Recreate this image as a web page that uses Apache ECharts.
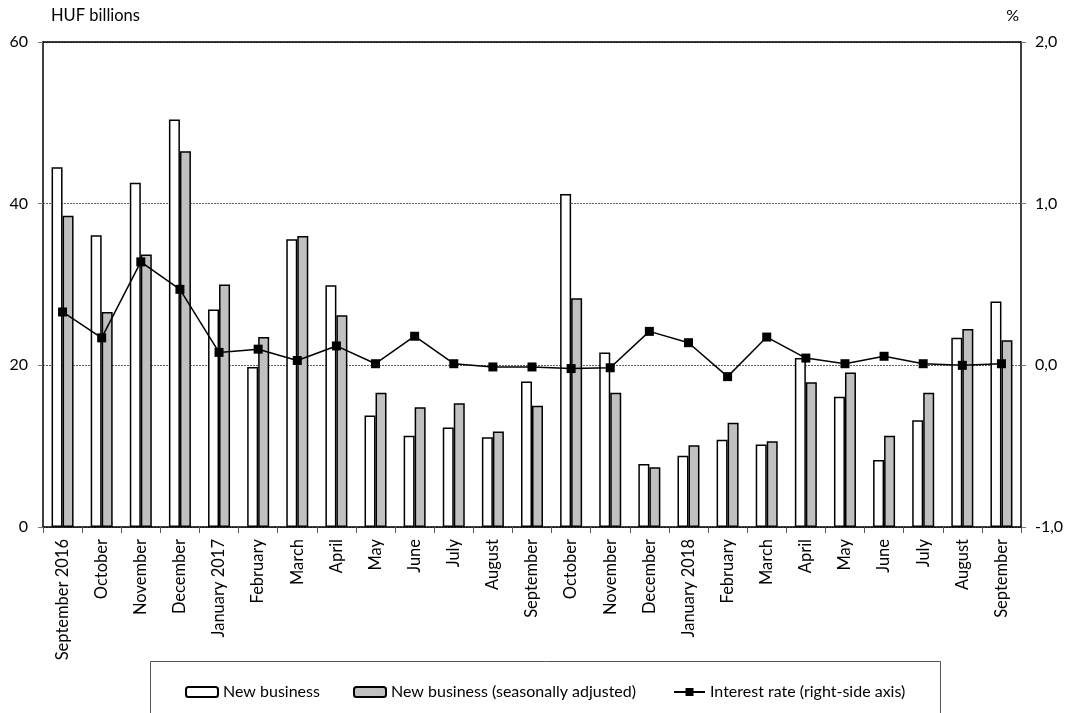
<!DOCTYPE html>
<html>
<head>
<meta charset="utf-8">
<script src="https://cdn.jsdelivr.net/npm/echarts@6/dist/echarts.min.js"></script>
<style>
html,body{margin:0;padding:0;background:#fff;}
#chart{width:1077px;height:713px;}
</style>
</head>
<body>
<div id="chart"></div>
<script>
var categories = ["September 2016","October","November","December","January 2017","February","March","April","May","June","July","August","September","October","November","December","January 2018","February","March","April","May","June","July","August","September"];
var newBusiness = [44.5,36.1,42.6,50.4,26.9,19.8,35.6,29.9,13.8,11.3,12.3,11.1,18.0,41.2,21.6,7.8,8.8,10.8,10.2,20.9,16.1,8.3,13.2,23.4,27.9];
var newBusinessSA = [38.5,26.6,33.7,46.5,30.0,23.5,36.0,26.2,16.6,14.8,15.3,11.8,15.0,28.3,16.6,7.4,10.1,12.9,10.6,17.9,19.1,11.3,16.6,24.5,23.1];
var interestRate = [0.33,0.17,0.64,0.47,0.08,0.10,0.03,0.12,0.01,0.18,0.01,-0.01,-0.01,-0.02,-0.015,0.21,0.14,-0.07,0.175,0.045,0.01,0.056,0.01,0.0,0.01];
var leftTicks = {min:0,max:60,interval:20};
var rightTicks = {min:-1,max:2,interval:1};

var FONT = 'Lato';
var chart = echarts.init(document.getElementById('chart'));
var legendText = {fontFamily:FONT,fontSize:16,color:'#000'};
chart.setOption({
  backgroundColor:'#fff',
  animation:false,
  textStyle:{fontFamily:FONT},
  grid:{left:43,right:56,top:42,bottom:186,containLabel:false},
  graphic:[{type:'rect',left:148,top:659,shape:{width:790,height:80},style:{fill:'none',stroke:'#555',lineWidth:1},silent:true}],
  legend:[
    {data:['New business'],left:180,top:679,itemWidth:32,itemHeight:10,textStyle:legendText},
    {data:['New business (seasonally adjusted)'],left:348,top:679,itemWidth:32,itemHeight:10,textStyle:legendText},
    {data:['Interest rate (right-side axis)'],left:668,top:679,itemWidth:31,itemHeight:10,textStyle:legendText}
  ],
  xAxis:[{
    type:'category',data:categories,boundaryGap:true,
    axisLine:{lineStyle:{color:'#000',width:1.5}},
    axisTick:{show:true,length:6,lineStyle:{color:'#555'}},
    axisLabel:{rotate:90,interval:0,margin:12,fontFamily:FONT,fontSize:16.5,color:'#000'}
  },{
    type:'category',data:categories,position:'top',
    axisLine:{show:true,onZero:false,lineStyle:{color:'#000',width:1.5}},
    axisTick:{show:false},axisLabel:{show:false}
  }],
  yAxis:[{
    type:'value',min:leftTicks.min,max:leftTicks.max,interval:leftTicks.interval,
    name:'HUF billions',nameLocation:'end',nameGap:18,
    nameTextStyle:{fontFamily:FONT,fontSize:16.5,color:'#000',align:'left',padding:[0,0,0,8]},
    axisLine:{show:true,lineStyle:{color:'#000',width:1.5}},
    axisTick:{show:true,length:5,lineStyle:{color:'#777'}},
    axisLabel:{fontFamily:FONT,fontSize:16,color:'#000',margin:15},
    splitLine:{show:true,lineStyle:{color:'#333',type:[2,1],width:0.8}}
  },{
    type:'value',min:rightTicks.min,max:rightTicks.max,interval:rightTicks.interval,position:'right',
    name:'%',nameLocation:'end',nameGap:18,
    nameTextStyle:{fontFamily:FONT,fontSize:16,color:'#000',align:'right',padding:[0,2,0,0]},
    axisLine:{show:true,lineStyle:{color:'#000',width:1.5}},
    axisTick:{show:true,length:5,lineStyle:{color:'#777'}},
    axisLabel:{fontFamily:FONT,fontSize:16,color:'#000',margin:14,formatter:function(v){return v.toFixed(1).replace('.',',');}},
    splitLine:{show:false}
  }],
  series:[
    {name:'New business',type:'bar',data:newBusiness,barWidth:11,barGap:'0%',
     itemStyle:{color:'#fff',borderColor:'#000',borderWidth:1.5}},
    {name:'New business (seasonally adjusted)',type:'bar',data:newBusinessSA,barWidth:11,barGap:'0%',
     itemStyle:{color:'#c0c0c0',borderColor:'#000',borderWidth:1.5}},
    {name:'Interest rate (right-side axis)',type:'line',yAxisIndex:1,data:interestRate,z:5,
     symbol:'rect',symbolSize:9,showSymbol:true,
     lineStyle:{color:'#000',width:1.5},itemStyle:{color:'#000'}}
  ]
});
</script>
</body>
</html>
